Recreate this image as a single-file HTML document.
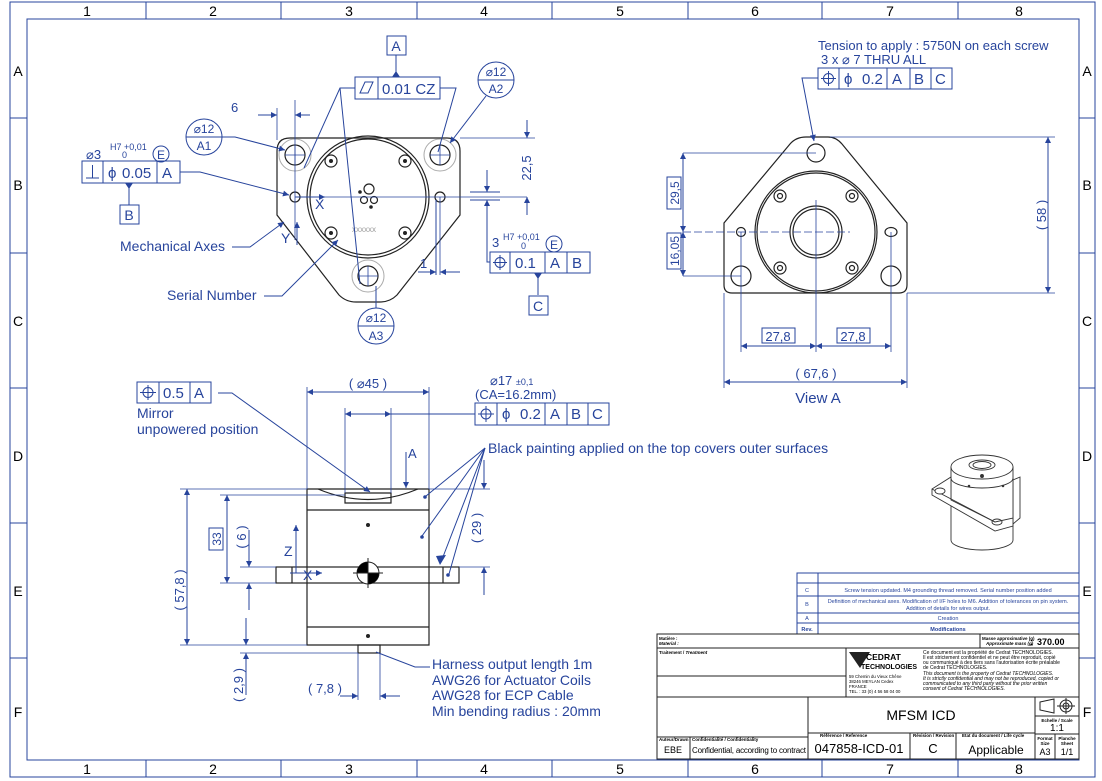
<!DOCTYPE html>
<html><head><meta charset="utf-8"><style>
html,body{margin:0;padding:0;background:#fff;}
svg{display:block;font-family:"Liberation Sans",sans-serif;}
.b{fill:none;stroke:#27449c;stroke-width:1;}
.bt{fill:#27449c;}
.k{fill:none;stroke:#222;stroke-width:1.2;}
.g{fill:none;stroke:#aaa;stroke-width:1;}
.tk{fill:#000;}
</style></head><body>
<svg width="1102" height="781" viewBox="0 0 1102 781" xmlns="http://www.w3.org/2000/svg">
<defs>
<marker id="ar" viewBox="0 0 10 10" refX="10" refY="5" markerWidth="9" markerHeight="6" orient="auto-start-reverse" markerUnits="userSpaceOnUse"><path d="M0,0 L10,5 L0,10 z" fill="#27449c"/></marker>
</defs>
<!-- frame -->
<rect x="10" y="2" width="1085" height="775" fill="none" stroke="#27449c"/>
<rect x="27" y="19" width="1052" height="741" fill="none" stroke="#27449c"/>
<g stroke="#27449c">
<line x1="146" y1="2" x2="146" y2="19"/><line x1="281" y1="2" x2="281" y2="19"/><line x1="417" y1="2" x2="417" y2="19"/><line x1="552" y1="2" x2="552" y2="19"/><line x1="688" y1="2" x2="688" y2="19"/><line x1="822" y1="2" x2="822" y2="19"/><line x1="958" y1="2" x2="958" y2="19"/>
<line x1="146" y1="760" x2="146" y2="777"/><line x1="281" y1="760" x2="281" y2="777"/><line x1="417" y1="760" x2="417" y2="777"/><line x1="552" y1="760" x2="552" y2="777"/><line x1="688" y1="760" x2="688" y2="777"/><line x1="822" y1="760" x2="822" y2="777"/><line x1="958" y1="760" x2="958" y2="777"/>
<line x1="10" y1="118" x2="27" y2="118"/><line x1="10" y1="253" x2="27" y2="253"/><line x1="10" y1="388" x2="27" y2="388"/><line x1="10" y1="523" x2="27" y2="523"/><line x1="10" y1="658" x2="27" y2="658"/>
<line x1="1079" y1="118" x2="1095" y2="118"/><line x1="1079" y1="253" x2="1095" y2="253"/><line x1="1079" y1="388" x2="1095" y2="388"/><line x1="1079" y1="523" x2="1095" y2="523"/><line x1="1079" y1="658" x2="1095" y2="658"/>
</g>
<g class="tk" font-size="14" text-anchor="middle">
<text x="87" y="16">1</text><text x="213" y="16">2</text><text x="349" y="16">3</text><text x="484" y="16">4</text><text x="620" y="16">5</text><text x="755" y="16">6</text><text x="890" y="16">7</text><text x="1019" y="16">8</text>
<text x="87" y="774">1</text><text x="213" y="774">2</text><text x="349" y="774">3</text><text x="484" y="774">4</text><text x="620" y="774">5</text><text x="755" y="774">6</text><text x="890" y="774">7</text><text x="1019" y="774">8</text>
<text x="18" y="76">A</text><text x="18" y="190">B</text><text x="18" y="326">C</text><text x="18" y="461">D</text><text x="18" y="596">E</text><text x="18" y="717">F</text>
<text x="1087" y="76">A</text><text x="1087" y="190">B</text><text x="1087" y="326">C</text><text x="1087" y="461">D</text><text x="1087" y="596">E</text><text x="1087" y="717">F</text>
</g>

<!-- ===== TOP VIEW ===== -->
<path class="k" d="M290,138 L447,138 Q460,138 460,151 L460,215 L397,295 Q390,302 380,302 L356,302 Q346,302 339,295 L277,215 L277,151 Q277,138 290,138 Z"/>
<circle class="k" cx="368" cy="197" r="61"/><circle class="k" cx="368" cy="197" r="58"/>
<circle class="g" cx="295" cy="155" r="16"/><circle class="k" cx="295" cy="155" r="10"/>
<circle class="g" cx="440" cy="155" r="16"/><circle class="k" cx="440" cy="155" r="10"/>
<circle class="g" cx="368" cy="276" r="16"/><circle class="k" cx="368" cy="276" r="10"/>
<circle class="k" cx="295" cy="197" r="5"/><circle class="k" cx="440" cy="197" r="5"/>
<g class="k"><circle cx="331" cy="161" r="6"/><circle cx="405" cy="161" r="6"/><circle cx="331" cy="233" r="6"/><circle cx="405" cy="233" r="6"/></g>
<g fill="#222"><circle cx="331" cy="161" r="2"/><circle cx="405" cy="161" r="2"/><circle cx="331" cy="233" r="2"/><circle cx="405" cy="233" r="2"/></g>
<circle class="k" cx="369" cy="189" r="5"/><circle class="k" cx="364" cy="200" r="3.5"/><circle class="k" cx="374" cy="200" r="3.5"/><circle cx="360" cy="192" r="1.8" fill="#222"/><circle cx="371" cy="207" r="1.8" fill="#222"/>
<text x="352" y="232" font-size="8" fill="#999">xxxxxx</text>
<g stroke="#27449c" stroke-width="0.8">
<line x1="285" y1="155" x2="305" y2="155"/><line x1="295" y1="145" x2="295" y2="165"/>
<line x1="430" y1="155" x2="450" y2="155"/><line x1="440" y1="145" x2="440" y2="165"/>
<line x1="358" y1="276" x2="378" y2="276"/><line x1="368" y1="266" x2="368" y2="286"/>
<line x1="295" y1="197" x2="527" y2="197"/><line x1="295" y1="100" x2="295" y2="240"/><line x1="277" y1="108" x2="277" y2="140"/>
<line x1="440" y1="197" x2="440" y2="275"/><line x1="460" y1="138" x2="535" y2="138"/>
</g>
<line class="b" x1="258" y1="115" x2="277" y2="115" marker-end="url(#ar)"/><line class="b" x1="310" y1="115" x2="295" y2="115" marker-end="url(#ar)"/>
<text x="231" y="112" font-size="13" class="bt">6</text>
<line class="b" x1="527" y1="120" x2="527" y2="138" marker-end="url(#ar)"/><line class="b" x1="527" y1="215" x2="527" y2="197" marker-end="url(#ar)"/>
<text transform="translate(531,168) rotate(-90)" font-size="13" class="bt" text-anchor="middle">22,5</text>
<line class="b" x1="470" y1="192" x2="500" y2="192"/><line class="b" x1="470" y1="200" x2="500" y2="200"/>
<line class="b" x1="487" y1="170" x2="487" y2="192" marker-end="url(#ar)"/><line class="b" x1="487" y1="225" x2="487" y2="200" marker-end="url(#ar)"/>
<line class="b" x1="436" y1="200" x2="436" y2="275"/>
<line class="b" x1="418" y1="272" x2="436" y2="272" marker-end="url(#ar)"/><line class="b" x1="460" y1="272" x2="440" y2="272" marker-end="url(#ar)"/>
<text x="420" y="268" font-size="13" class="bt">1</text>
<polyline class="b" points="487,225 487,262 490,262"/>
<rect class="b" x="490" y="252" width="100" height="21"/><line class="b" x1="510" y1="252" x2="510" y2="273"/><line class="b" x1="545" y1="252" x2="545" y2="273"/><line class="b" x1="567" y1="252" x2="567" y2="273"/>
<circle class="b" cx="500" cy="262.5" r="5"/><line class="b" x1="493" y1="262.5" x2="507" y2="262.5"/><line class="b" x1="500" y1="255" x2="500" y2="270"/>
<g class="bt" font-size="15"><text x="515" y="268">0.1</text><text x="550" y="268">A</text><text x="572" y="268">B</text></g>
<text x="492" y="247" font-size="13" class="bt">3</text><text x="503" y="240" font-size="9" class="bt">H7 +0,01</text><text x="521" y="249" font-size="9" class="bt">0</text>
<circle class="b" cx="554" cy="244" r="8"/><text x="554" y="249" font-size="12" class="bt" text-anchor="middle">E</text>
<line class="b" x1="538" y1="273" x2="538" y2="295"/><path d="M534,273 L542,273 L538,279 z" class="bt"/>
<rect class="b" x="529" y="296" width="19" height="19"/><text x="538" y="311" font-size="14" class="bt" text-anchor="middle">C</text>
<rect class="b" x="387" y="36" width="19" height="19"/><text x="396" y="51" font-size="14" class="bt" text-anchor="middle">A</text>
<line class="b" x1="396" y1="55" x2="396" y2="77"/><path d="M392,77 L400,77 L396,71 z" class="bt"/>
<rect class="b" x="355" y="77" width="85" height="22"/><line class="b" x1="378" y1="77" x2="378" y2="99"/>
<path class="b" d="M360,93 L365,82 L373,82 L368,93 Z"/>
<text x="382" y="94" font-size="15" class="bt">0.01 CZ</text>
<polyline class="b" points="355,88 340,88 304,168"/><line class="b" x1="340" y1="88" x2="360" y2="284"/>
<polyline class="b" points="440,88 456,88 438,152"/>
<rect class="b" x="82" y="161" width="98" height="22"/><line class="b" x1="103" y1="161" x2="103" y2="183"/><line class="b" x1="157" y1="161" x2="157" y2="183"/>
<line class="b" x1="86" y1="178" x2="99" y2="178"/><line class="b" x1="92.5" y1="165" x2="92.5" y2="178"/>
<g class="bt" font-size="15"><text x="108" y="178">ϕ</text><text x="122" y="178">0.05</text><text x="162" y="178">A</text></g>
<text x="86" y="159" font-size="13" class="bt">⌀3</text><text x="110" y="150" font-size="9" class="bt">H7 +0,01</text><text x="122" y="158" font-size="9" class="bt">0</text>
<circle class="b" cx="161" cy="154" r="8"/><text x="161" y="159" font-size="12" class="bt" text-anchor="middle">E</text>
<line class="b" x1="129" y1="183" x2="129" y2="205"/><path d="M125,183 L133,183 L129,189 z" class="bt"/>
<rect class="b" x="120" y="205" width="19" height="19"/><text x="129" y="220" font-size="14" class="bt" text-anchor="middle">B</text>
<polyline class="b" points="180,172 200,172 289,195" marker-end="url(#ar)"/>
<circle class="b" cx="204" cy="137" r="18"/><line class="b" x1="186" y1="137" x2="222" y2="137"/>
<text x="204" y="133" font-size="12" class="bt" text-anchor="middle">⌀12</text><text x="204" y="150" font-size="12" class="bt" text-anchor="middle">A1</text>
<polyline class="b" points="222,137 235,137 285,150" marker-end="url(#ar)"/>
<circle class="b" cx="496" cy="80" r="18"/><line class="b" x1="478" y1="80" x2="514" y2="80"/>
<text x="496" y="76" font-size="12" class="bt" text-anchor="middle">⌀12</text><text x="496" y="93" font-size="12" class="bt" text-anchor="middle">A2</text>
<line class="b" x1="486" y1="96" x2="450" y2="143" marker-end="url(#ar)"/>
<circle class="b" cx="376" cy="326" r="18"/><line class="b" x1="358" y1="326" x2="394" y2="326"/>
<text x="376" y="322" font-size="12" class="bt" text-anchor="middle">⌀12</text><text x="376" y="340" font-size="12" class="bt" text-anchor="middle">A3</text>
<line class="b" x1="376" y1="308" x2="376" y2="286"/>
<text x="120" y="251" font-size="14" class="bt">Mechanical Axes</text>
<polyline class="b" points="232,247 250,247 284,222" marker-end="url(#ar)"/>
<text x="167" y="300" font-size="14" class="bt">Serial Number</text>
<polyline class="b" points="264,296 282,296 338,240" marker-end="url(#ar)"/>
<line class="b" x1="295" y1="197" x2="325" y2="197" marker-end="url(#ar)"/><text x="315" y="209" font-size="14" class="bt">X</text>
<line class="b" x1="297" y1="245" x2="297" y2="222" marker-end="url(#ar)"/><text x="281" y="243" font-size="14" class="bt">Y</text>

<!-- ===== VIEW A ===== -->
<path class="k" d="M806,137 L828,137 Q836,137 842,144 L907,223 L907,285 Q907,293 899,293 L732,293 Q724,293 724,285 L724,223 L790,144 Q796,137 806,137 Z"/>
<circle class="k" cx="816" cy="232" r="61"/><circle class="k" cx="816" cy="232" r="59"/>
<circle class="k" cx="816" cy="232" r="26"/><circle class="k" cx="816" cy="232" r="23"/>
<circle class="k" cx="816" cy="153" r="9"/><circle class="k" cx="741" cy="276" r="10"/><circle class="k" cx="891" cy="276" r="10"/>
<circle class="k" cx="741" cy="232" r="4.5"/><ellipse class="k" cx="891" cy="232" rx="6" ry="4.5"/>
<g class="k"><circle cx="780" cy="196" r="6"/><circle cx="852" cy="196" r="6"/><circle cx="780" cy="268" r="6"/><circle cx="852" cy="268" r="6"/><circle cx="780" cy="196" r="2.5"/><circle cx="852" cy="196" r="2.5"/><circle cx="780" cy="268" r="2.5"/><circle cx="852" cy="268" r="2.5"/></g>
<g stroke="#27449c" stroke-width="0.8">
<line x1="683" y1="153" x2="816" y2="153"/><line x1="683" y1="232" x2="850" y2="232" stroke-dasharray="8,3"/><line x1="683" y1="276" x2="741" y2="276"/>
<line x1="816" y1="200" x2="816" y2="352"/><line x1="741" y1="232" x2="741" y2="352"/><line x1="891" y1="232" x2="891" y2="352"/>
<line x1="724" y1="293" x2="724" y2="388"/><line x1="907" y1="293" x2="907" y2="388"/>
<line x1="830" y1="137" x2="1055" y2="137"/><line x1="907" y1="293" x2="1055" y2="293"/>
</g>
<line class="b" x1="683" y1="192" x2="683" y2="153" marker-end="url(#ar)"/><line class="b" x1="683" y1="192" x2="683" y2="232" marker-end="url(#ar)"/>
<line class="b" x1="683" y1="254" x2="683" y2="232" marker-end="url(#ar)"/><line class="b" x1="683" y1="254" x2="683" y2="276" marker-end="url(#ar)"/>
<rect class="b" x="667" y="177" width="14" height="32"/><text transform="translate(679,193) rotate(-90)" font-size="12" class="bt" text-anchor="middle">29,5</text>
<rect class="b" x="667" y="233" width="14" height="36"/><text transform="translate(679,251) rotate(-90)" font-size="12" class="bt" text-anchor="middle">16,05</text>
<line class="b" x1="1048" y1="215" x2="1048" y2="137" marker-end="url(#ar)"/><line class="b" x1="1048" y1="215" x2="1048" y2="293" marker-end="url(#ar)"/>
<text transform="translate(1046,215) rotate(-90)" font-size="13" class="bt" text-anchor="middle">( 58 )</text>
<line class="b" x1="779" y1="346" x2="741" y2="346" marker-end="url(#ar)"/><line class="b" x1="779" y1="346" x2="816" y2="346" marker-end="url(#ar)"/>
<line class="b" x1="853" y1="346" x2="816" y2="346" marker-end="url(#ar)"/><line class="b" x1="853" y1="346" x2="891" y2="346" marker-end="url(#ar)"/>
<rect class="b" x="762" y="328" width="33" height="15"/><text x="778" y="341" font-size="13" class="bt" text-anchor="middle">27,8</text>
<rect class="b" x="837" y="328" width="33" height="15"/><text x="853" y="341" font-size="13" class="bt" text-anchor="middle">27,8</text>
<line class="b" x1="815" y1="382" x2="724" y2="382" marker-end="url(#ar)"/><line class="b" x1="815" y1="382" x2="907" y2="382" marker-end="url(#ar)"/>
<text x="816" y="378" font-size="13" class="bt" text-anchor="middle">( 67,6 )</text>
<text x="818" y="403" font-size="15" class="bt" text-anchor="middle">View A</text>
<text x="818" y="50" font-size="13" class="bt">Tension to apply : 5750N on each screw</text>
<text x="821" y="64" font-size="13" class="bt">3 x ⌀ 7 THRU ALL</text>
<rect class="b" x="818" y="68" width="134" height="21"/><line class="b" x1="839" y1="68" x2="839" y2="89"/><line class="b" x1="887" y1="68" x2="887" y2="89"/><line class="b" x1="910" y1="68" x2="910" y2="89"/><line class="b" x1="931" y1="68" x2="931" y2="89"/>
<circle class="b" cx="828.5" cy="78.5" r="5"/><line class="b" x1="821" y1="78.5" x2="836" y2="78.5"/><line class="b" x1="828.5" y1="71" x2="828.5" y2="86"/>
<g class="bt" font-size="15"><text x="844" y="84">ϕ</text><text x="862" y="84">0.2</text><text x="892" y="84">A</text><text x="914" y="84">B</text><text x="935" y="84">C</text></g>
<polyline class="b" points="818,78 802,78 814,141" marker-end="url(#ar)"/>

<!-- ===== SIDE VIEW ===== -->
<path class="k" d="M307,489 L429,489 L429,645 L307,645 Z"/>
<line class="k" x1="307" y1="510" x2="429" y2="510"/><line class="k" x1="307" y1="627" x2="429" y2="627"/>
<path class="k" d="M318,489 Q368,510 418,489"/><path class="k" d="M345,493 L391,493 L391,503 L345,503 Z"/>
<rect class="k" x="276" y="567" width="183" height="16" fill="#fff"/>
<line class="k" x1="292" y1="567" x2="292" y2="583"/><line class="k" x1="443" y1="567" x2="443" y2="583"/>
<rect class="k" x="358" y="645" width="22" height="8"/>
<circle cx="368" cy="525" r="2" fill="#222"/><circle cx="368" cy="636" r="2" fill="#222"/>
<circle cx="368" cy="573" r="11" fill="#fff" stroke="#222"/>
<path d="M368,573 L357,573 A11,11 0 0 1 368,562 Z" fill="#000"/><path d="M368,573 L379,573 A11,11 0 0 1 368,584 Z" fill="#000"/>
<line x1="368" y1="558" x2="368" y2="588" stroke="#222"/><line x1="353" y1="573" x2="383" y2="573" stroke="#222"/>
<g stroke="#27449c" stroke-width="0.8">
<line x1="307" y1="387" x2="307" y2="489"/><line x1="429" y1="387" x2="429" y2="489"/>
<line x1="345" y1="408" x2="345" y2="493"/><line x1="391" y1="408" x2="391" y2="493"/>
<line x1="180" y1="489" x2="307" y2="489"/><line x1="220" y1="495" x2="345" y2="495"/>
<line x1="429" y1="489" x2="490" y2="489"/><line x1="459" y1="567" x2="490" y2="567"/>
<line x1="240" y1="567" x2="276" y2="567"/><line x1="220" y1="583" x2="276" y2="583"/>
<line x1="180" y1="645" x2="307" y2="645"/><line x1="240" y1="653" x2="358" y2="653"/>
<line x1="358" y1="653" x2="358" y2="700"/><line x1="380" y1="653" x2="380" y2="700"/>
</g>
<line class="b" x1="368" y1="392" x2="307" y2="392" marker-end="url(#ar)"/><line class="b" x1="368" y1="392" x2="429" y2="392" marker-end="url(#ar)"/>
<text x="368" y="388" font-size="13" class="bt" text-anchor="middle">( ⌀45 )</text>
<line class="b" x1="368" y1="414" x2="345" y2="414" marker-end="url(#ar)"/><line class="b" x1="368" y1="414" x2="391" y2="414" marker-end="url(#ar)"/>
<line class="b" x1="391" y1="414" x2="475" y2="414"/>
<text x="490" y="385" font-size="13" class="bt">⌀17 <tspan font-size="9">±0,1</tspan></text>
<text x="475" y="399" font-size="13" class="bt">(CA=16.2mm)</text>
<rect class="b" x="475" y="403" width="134" height="22"/><line class="b" x1="497" y1="403" x2="497" y2="425"/><line class="b" x1="545" y1="403" x2="545" y2="425"/><line class="b" x1="567" y1="403" x2="567" y2="425"/><line class="b" x1="588" y1="403" x2="588" y2="425"/>
<circle class="b" cx="486" cy="414" r="5"/><line class="b" x1="478" y1="414" x2="494" y2="414"/><line class="b" x1="486" y1="406" x2="486" y2="422"/>
<g class="bt" font-size="15"><text x="502" y="419">ϕ</text><text x="520" y="419">0.2</text><text x="550" y="419">A</text><text x="571" y="419">B</text><text x="592" y="419">C</text></g>
<rect class="b" x="137" y="382" width="74" height="21"/><line class="b" x1="159" y1="382" x2="159" y2="403"/><line class="b" x1="190" y1="382" x2="190" y2="403"/>
<circle class="b" cx="148" cy="392.5" r="5"/><line class="b" x1="140" y1="392.5" x2="156" y2="392.5"/><line class="b" x1="148" y1="385" x2="148" y2="400"/>
<g class="bt" font-size="15"><text x="163" y="398">0.5</text><text x="194" y="398">A</text></g>
<text x="137" y="418" font-size="14" class="bt">Mirror</text><text x="137" y="434" font-size="14" class="bt">unpowered position</text>
<polyline class="b" points="218,393 232,393 370,492" marker-end="url(#ar)"/>
<line class="b" x1="406" y1="452" x2="406" y2="488" marker-end="url(#ar)"/><text x="408" y="458" font-size="13" class="bt">A</text>
<text x="488" y="453" font-size="14" class="bt">Black painting applied on the top covers outer surfaces</text>
<g class="b"><line x1="485" y1="448" x2="426" y2="496"/><line x1="485" y1="448" x2="422" y2="536"/><line x1="485" y1="448" x2="441" y2="562"/><line x1="485" y1="448" x2="449" y2="574"/></g>
<g class="bt"><circle cx="425" cy="497" r="1.8"/><circle cx="422" cy="537" r="1.8"/><circle cx="448" cy="575" r="1.8"/></g>
<path d="M436,556 L446,555 L440,565 z" class="bt"/>
<line class="b" x1="187" y1="567" x2="187" y2="489" marker-end="url(#ar)"/><line class="b" x1="187" y1="567" x2="187" y2="645" marker-end="url(#ar)"/>
<text transform="translate(184,590) rotate(-90)" font-size="13" class="bt" text-anchor="middle">( 57,8 )</text>
<line class="b" x1="227" y1="540" x2="227" y2="495" marker-end="url(#ar)"/><line class="b" x1="227" y1="540" x2="227" y2="583" marker-end="url(#ar)"/>
<rect class="b" x="209" y="528" width="14" height="22"/><text transform="translate(221,539) rotate(-90)" font-size="12" class="bt" text-anchor="middle">33</text>
<line class="b" x1="249" y1="530" x2="249" y2="567" marker-end="url(#ar)"/><line class="b" x1="249" y1="610" x2="249" y2="583" marker-end="url(#ar)"/>
<text transform="translate(246,537) rotate(-90)" font-size="13" class="bt" text-anchor="middle">( 6 )</text>
<line class="b" x1="484" y1="460" x2="484" y2="489" marker-end="url(#ar)"/><line class="b" x1="484" y1="595" x2="484" y2="567" marker-end="url(#ar)"/>
<text transform="translate(481,528) rotate(-90)" font-size="13" class="bt" text-anchor="middle">( 29 )</text>
<line class="b" x1="246" y1="618" x2="246" y2="645" marker-end="url(#ar)"/><line class="b" x1="246" y1="695" x2="246" y2="653" marker-end="url(#ar)"/>
<text transform="translate(243,685) rotate(-90)" font-size="13" class="bt" text-anchor="middle">( 2,9 )</text>
<line class="b" x1="340" y1="696" x2="358" y2="696" marker-end="url(#ar)"/><line class="b" x1="400" y1="696" x2="380" y2="696" marker-end="url(#ar)"/>
<text x="325" y="693" font-size="13" class="bt" text-anchor="middle">( 7,8 )</text>
<line class="b" x1="290" y1="573" x2="322" y2="573" marker-end="url(#ar)"/><text x="303" y="580" font-size="14" class="bt">X</text>
<line class="b" x1="296" y1="573" x2="296" y2="525" marker-end="url(#ar)"/><text x="284" y="556" font-size="14" class="bt">Z</text>
<polyline class="b" points="376,652 415,667 430,667"/>
<g class="bt" font-size="14"><text x="432" y="669">Harness output length 1m</text><text x="432" y="685">AWG26 for Actuator Coils</text><text x="432" y="700">AWG28 for ECP Cable</text><text x="432" y="716">Min bending radius : 20mm</text></g>

<!-- iso view -->
<g fill="#fff" stroke="#333" stroke-width="0.9">
<path d="M1013,480 L1020,477 L1020,518 L1013,524 Z"/>
<path d="M951,467 L951,540 A31,10 0 0 0 1013,540 L1013,467 Z"/>
<ellipse cx="982" cy="467" rx="31" ry="12"/><ellipse cx="982" cy="465" rx="13" ry="5"/><ellipse cx="982" cy="465" rx="9" ry="3.5"/>
<path d="M951,478 A31,10 0 0 0 1013,478" fill="none"/>
<path d="M932,489 L951,477 L951,500 L995,522 L1013,518 L1013,526 L995,531 L932,495 Z"/>
<line x1="932" y1="489" x2="995" y2="522"/>
<ellipse cx="940" cy="491" rx="5" ry="3"/><ellipse cx="997" cy="522" rx="5" ry="3" fill="none"/>
<circle cx="969" cy="486" r="0.8" fill="#333"/><circle cx="1003" cy="486" r="0.8" fill="#333"/><circle cx="982" cy="476" r="1.5" fill="#333"/>
</g>

<!-- ===== TITLE BLOCK ===== -->
<g stroke="#27449c" fill="none">
<rect x="797" y="573" width="282" height="61"/>
<line x1="797" y1="583" x2="1079" y2="583"/><line x1="797" y1="596" x2="1079" y2="596"/><line x1="797" y1="613" x2="1079" y2="613"/><line x1="797" y1="623" x2="1079" y2="623"/>
<line x1="818" y1="573" x2="818" y2="634"/>
</g>
<g fill="#27449c" font-size="5.5" text-anchor="middle">
<text x="807" y="592">C</text><text x="948" y="592">Screw tension updated. M4 grounding thread removed. Serial number position added</text>
<text x="807" y="606">B</text><text x="948" y="603">Definition of mechanical axes. Modification of I/F holes to M6. Addition of tolerances on pin system.</text><text x="948" y="610">Addition of details for wires output.</text>
<text x="807" y="620">A</text><text x="948" y="620">Creation</text>
<text x="807" y="631" font-weight="bold">Rev.</text><text x="948" y="631" font-weight="bold">Modifications</text>
</g>
<g stroke="#222" fill="none">
<rect x="657" y="634" width="422" height="125"/>
<line x1="657" y1="648" x2="1079" y2="648"/><line x1="980" y1="634" x2="980" y2="648"/>
<line x1="657" y1="676" x2="846" y2="676"/><line x1="846" y1="648" x2="846" y2="697"/>
<line x1="657" y1="697" x2="1079" y2="697"/>
<line x1="808" y1="697" x2="808" y2="759"/><line x1="808" y1="733" x2="1035" y2="733"/>
<line x1="657" y1="737" x2="808" y2="737"/><line x1="690" y1="737" x2="690" y2="759"/>
<line x1="910" y1="733" x2="910" y2="759"/><line x1="956" y1="733" x2="956" y2="759"/>
<line x1="1035" y1="697" x2="1035" y2="759"/><line x1="1035" y1="716" x2="1079" y2="716"/><line x1="1035" y1="734" x2="1079" y2="734"/><line x1="1055" y1="734" x2="1055" y2="759"/>
</g>
<g fill="#000" font-size="4.5" font-weight="bold">
<text x="659" y="640">Matière :</text><text x="659" y="645" font-style="italic">Material :</text>
<text x="659" y="654">Traitement / <tspan font-style="italic">Treatment</tspan></text>
<text x="982" y="640">Masse approximative (g)</text><text x="986" y="645" font-style="italic">Approximate mass (g)</text>
<text x="659" y="741">Auteur/Drawn</text><text x="692" y="741">Confidentialité / Confidentiality</text>
<text x="820" y="737">Référence / Reference</text><text x="913" y="737">Révision / Revision</text><text x="962" y="737">Etat du document / Life cycle</text>
<text x="1057" y="722" text-anchor="middle">Echelle / Scale</text>
<text x="1045" y="740" text-anchor="middle">Format</text><text x="1045" y="745" text-anchor="middle">Size</text>
<text x="1067" y="740" text-anchor="middle">Planche</text><text x="1067" y="745" text-anchor="middle">Sheet</text>
</g>
<text x="1037" y="645" font-size="9" font-weight="bold" fill="#000">370.00</text><text x="1030" y="645" font-size="9" font-weight="bold" fill="#000">:</text>
<path d="M849,652 L870,652 L860,668 Z" fill="#222"/><text x="866" y="660" font-size="8.5" font-weight="bold" fill="#000">CEDRAT</text><text x="861" y="669" font-size="7" font-weight="bold" fill="#000">TECHNOLOGIES</text>
<g fill="#000" font-size="4.3"><text x="849" y="678">59 Chemin du Vieux Chêne</text><text x="849" y="683">38246 MEYLAN Cedex</text><text x="849" y="688">FRANCE</text><text x="849" y="693">TEL. : 33 (0) 4 56 58 04 00</text></g>
<g fill="#000" font-size="5"><text x="923" y="654">Ce document est la propriété de Cedrat TECHNOLOGIES.</text><text x="923" y="659">Il est strictement confidentiel et ne peut être reproduit, copié</text><text x="923" y="664">ou communiqué à des tiers sans l'autorisation écrite préalable</text><text x="923" y="669">de Cedrat TECHNOLOGIES.</text>
<g font-style="italic"><text x="923" y="675">This document is the property of Cedrat TECHNOLOGIES.</text><text x="923" y="680">It is strictly confidential and may not be reproduced, copied or</text><text x="923" y="685">communicated to any third party without the prior written</text><text x="923" y="690">consent of Cedrat TECHNOLOGIES.</text></g></g>
<text x="921" y="720" font-size="14" fill="#000" text-anchor="middle">MFSM ICD</text>
<text x="673" y="753" font-size="9" fill="#000" text-anchor="middle">EBE</text>
<text x="692" y="753" font-size="8" fill="#000" textLength="114">Confidential, according to contract</text>
<text x="859" y="753" font-size="13" fill="#000" text-anchor="middle">047858-ICD-01</text>
<text x="933" y="753" font-size="13" fill="#000" text-anchor="middle">C</text>
<text x="996" y="754" font-size="12" fill="#000" text-anchor="middle">Applicable</text>
<text x="1057" y="731" font-size="10" fill="#000" text-anchor="middle">1:1</text>
<text x="1045" y="755" font-size="9" fill="#000" text-anchor="middle">A3</text><text x="1067" y="755" font-size="9" fill="#000" text-anchor="middle">1/1</text>
<g stroke="#222" fill="none"><path d="M1040,702 L1054,699 L1054,713 L1040,710 Z"/><circle cx="1066" cy="706" r="6"/><circle cx="1066" cy="706" r="3"/><line x1="1057" y1="706" x2="1075" y2="706"/><line x1="1066" y1="698" x2="1066" y2="714"/></g>
</svg>
</body></html>
